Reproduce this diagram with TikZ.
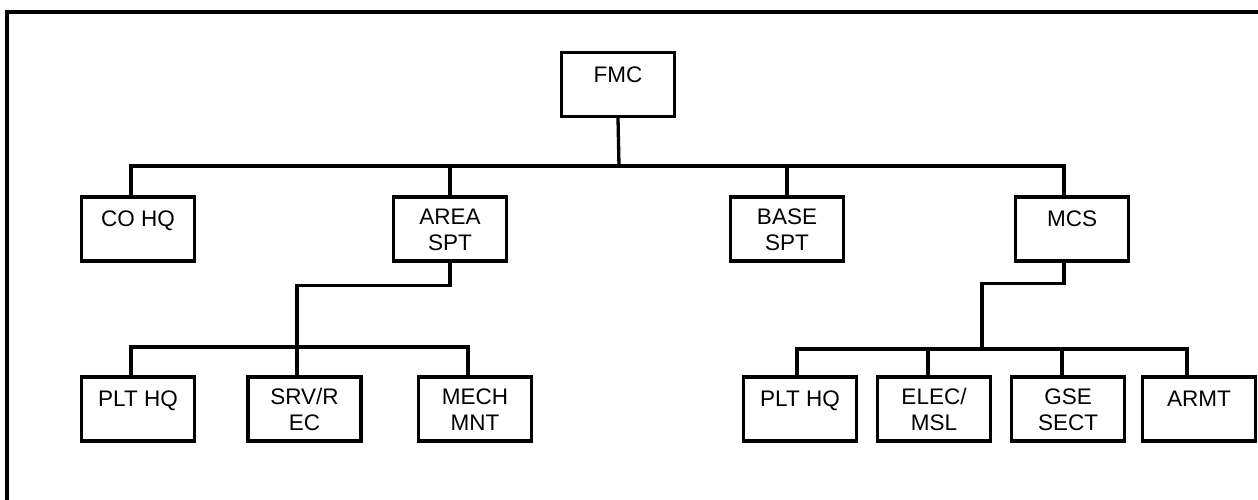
\documentclass[tikz,border=0pt]{standalone}
\usepackage{fontspec}
\setmainfont{Liberation Sans}
\usepackage{tikz}

\tikzset{
  unit/.style={draw, line width=3.3pt, inner sep=0pt, minimum width=113pt, minimum height=64pt,
    align=center, font=\fontsize{22.5}{26}\selectfont, text height=16.1pt, text depth=20.2pt},
  twoline/.style={text height=42.1pt, text depth=-5.8pt},
  link/.style={line width=3.3pt, line join=miter}
}

\begin{document}
\begin{tikzpicture}[x=1pt, y=1pt]
  \useasboundingbox (0,0) rectangle (1258,-499);
  \clip (0,0) rectangle (1258,-499);
  \draw[line width=4.3pt] (7,-510) -- (7,-12) -- (1270,-12);

  \node[unit] (fmc) at (618,-84.5) {FMC};

  \node[unit] (cohq) at (138,-229) {CO HQ};
  \node[unit, twoline] (area) at (450,-229) {AREA\\SPT};
  \node[unit, twoline] (base) at (787,-229) {BASE\\SPT};
  \node[unit] (mcs) at (1072,-229) {MCS};

  \node[unit] (plta) at (138,-409) {PLT HQ};
  \node[unit, twoline] (srv) at (304.5,-409) {SRV/R\\EC};
  \node[unit, twoline] (mech) at (475,-409) {MECH\\MNT};

  \node[unit] (pltb) at (800,-409) {PLT HQ};
  \node[unit, twoline] (elec) at (934,-409) {ELEC/\\MSL};
  \node[unit, twoline] (gse) at (1068,-409) {GSE\\SECT};
  \node[unit] (armt) at (1199,-409) {ARMT};

  \coordinate (hub) at (619,-166);
  \coordinate (lhub) at (297,-347);
  \coordinate (rhub) at (982,-349);

  % top level
  \draw[link] (fmc.south) -- (hub);
  \draw[link] ([xshift=-7pt]cohq.north) |- (hub) -| ([xshift=-8pt]mcs.north);
  \draw[link] (area.north) -- (area.north |- hub);
  \draw[link] (base.north) -- (base.north |- hub);

  % area support
  \draw[link] (area.south) -- ++(0,-23) -| (lhub);
  \draw[link] ([xshift=-7pt]plta.north) |- (lhub) -| ([xshift=-7pt]mech.north);
  \draw[link] (lhub) -- ([xshift=-7.5pt]srv.north);

  % mcs
  \draw[link] ([xshift=-8pt]mcs.south) -- ++(0,-21) -| (rhub);
  \draw[link] ([xshift=-3pt]pltb.north) |- (rhub) -| ([xshift=-12pt]armt.north);
  \draw[link] ([xshift=-6pt]elec.north) -- ([xshift=-6pt]elec.north |- rhub);
  \draw[link] ([xshift=-6pt]gse.north) -- ([xshift=-6pt]gse.north |- rhub);
\end{tikzpicture}
\end{document}
